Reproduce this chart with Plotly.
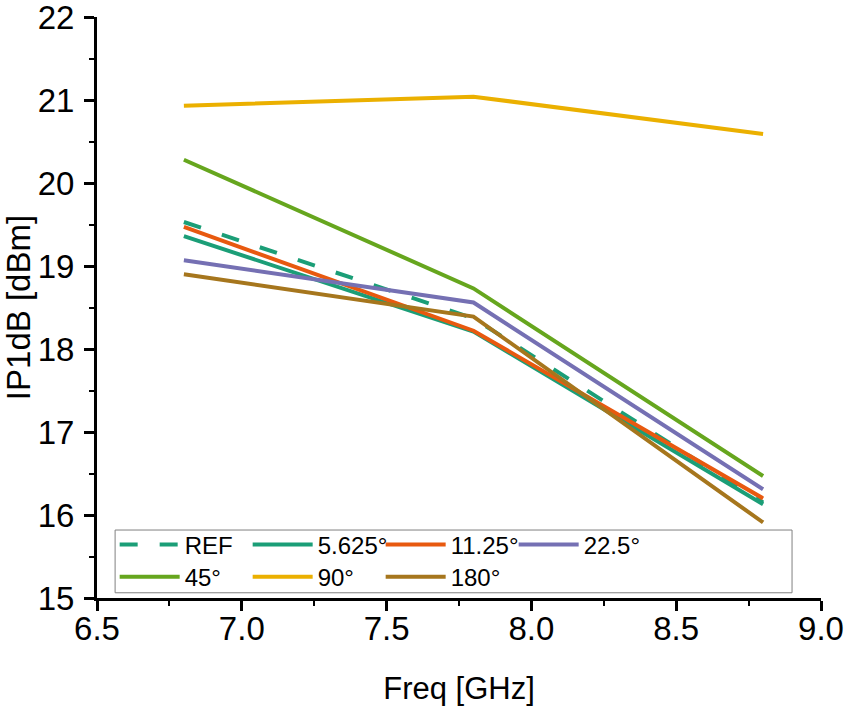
import plotly.graph_objects as go

# frequency points (GHz)
freq = [6.8, 7.8, 8.8]

# IP1dB per phase state (dBm)
ref = [19.53, 18.37, 16.15]
p5625 = [19.36, 18.21, 16.13]
p1125 = [19.47, 18.22, 16.20]
p225 = [19.07, 18.56, 16.31]
p45 = [20.28, 18.73, 16.47]
p90 = [20.93, 21.04, 20.59]
p180 = [18.90, 18.39, 15.91]

names = ["REF", "5.625°", "11.25°", "22.5°", "45°", "90°", "180°"]
series = [ref, p5625, p1125, p225, p45, p90, p180]
colors = ["#1b9e77", "#1b9e77", "#e8590f", "#7570b3", "#66a61e", "#ebb000", "#a6761d"]
dashes = ["18px,22px", "solid", "solid", "solid", "solid", "solid", "solid"]
# first legend row holds the first four entries, second row the rest
legend_rows = ["legend", "legend", "legend", "legend", "legend2", "legend2", "legend2"]

x_ticks = [6.5, 7.0, 7.5, 8.0, 8.5, 9.0]
y_ticks = [15, 16, 17, 18, 19, 20, 21, 22]

fig = go.Figure()
for name, vals, col, dsh, lg in zip(names, series, colors, dashes, legend_rows):
    fig.add_trace(go.Scatter(
        x=freq, y=vals, name=name, mode="lines", legend=lg,
        line=dict(color=col, width=4, dash=dsh),
    ))

axis_font = dict(family="Liberation Sans, Arial", size=33, color="black")
leg_style = dict(
    orientation="h", xanchor="left", yanchor="middle",
    font=dict(size=24), itemwidth=60, entrywidth=58,
    bgcolor="rgba(0,0,0,0)", borderwidth=0,
)

fig.update_layout(
    width=849, height=709,
    margin=dict(l=97, r=28, t=17, b=111),
    paper_bgcolor="white", plot_bgcolor="white",
    font=dict(family="Liberation Sans, Arial", color="black"),
    showlegend=True,
    legend=dict(x=0.0244, y=0.0912, **leg_style),
    legend2=dict(x=0.0244, y=0.0361, **leg_style),
    shapes=[dict(
        type="rect", xref="paper", yref="paper",
        x0=0.025, x1=0.96, y0=0.009, y1=0.117,
        line=dict(color="#808080", width=1), fillcolor="white", layer="above",
    )],
)

fig.update_xaxes(
    range=[6.5, 9.0], tickmode="array", tickvals=x_ticks,
    ticktext=[f"{v:.1f}" for v in x_ticks], automargin=False,
    ticklabeloverflow="allow", ticklabelstandoff=-11,
    showline=True, linecolor="black", linewidth=3, mirror=False,
    ticks="outside", ticklen=10, tickwidth=3, tickcolor="black",
    minor=dict(dtick=0.25, ticks="outside", ticklen=5, tickwidth=2, tickcolor="black"),
    showgrid=False, zeroline=False, tickfont=axis_font,
    title=dict(text="Freq [GHz]", font=dict(size=31), standoff=32),
)
fig.update_yaxes(
    range=[15, 22], tickmode="array", tickvals=y_ticks, automargin=False,
    ticklabeloverflow="allow", ticklabelstandoff=3,
    showline=True, linecolor="black", linewidth=3, mirror=False,
    ticks="outside", ticklen=10, tickwidth=3, tickcolor="black",
    minor=dict(dtick=0.5, ticks="outside", ticklen=5, tickwidth=2, tickcolor="black"),
    showgrid=False, zeroline=False, tickfont=axis_font,
    title=dict(text="IP1dB [dBm]", font=dict(size=33), standoff=9),
)

# drop the browser's default 8px body margin so the figure sits at the page corner
fig.write_html("out.html", config={"displayModeBar": False},
               post_script="document.body.style.margin='0';")
